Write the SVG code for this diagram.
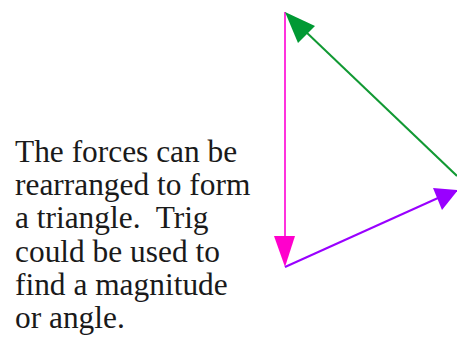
<svg xmlns="http://www.w3.org/2000/svg" width="457" height="341" viewBox="0 0 457 341">
<style>
.t{font-family:"Liberation Serif","Times New Roman",serif;font-size:31.4px;fill:#1a1a1a;white-space:pre}
</style>
<rect width="457" height="341" fill="#fff"/>
<g id="connectors">
<line x1="285" y1="12" x2="285" y2="240" stroke="#ff33dd" stroke-width="2"/>
<polygon points="274,236 295,236 285,267" fill="#ff00cc"/>
<line x1="285" y1="267" x2="438" y2="198" stroke="#9900ff" stroke-width="2"/>
<polygon points="433,188 458,190 442,210" fill="#9900ff"/>
<line x1="457" y1="176" x2="305" y2="31" stroke="#119933" stroke-width="2"/>
<polygon points="285,12 315,26 298,43" fill="#009933"/>
</g>
<g id="label">
<text class="t" x="15" y="162" xml:space="preserve">The forces can be</text>
<text class="t" x="15" y="195" xml:space="preserve">rearranged to form</text>
<text class="t" x="15" y="228" xml:space="preserve">a triangle.  Trig</text>
<text class="t" x="15" y="262" xml:space="preserve">could be used to</text>
<text class="t" x="15" y="295" xml:space="preserve">find a magnitude</text>
<text class="t" x="15" y="328" xml:space="preserve">or angle.</text>
</g>
</svg>
